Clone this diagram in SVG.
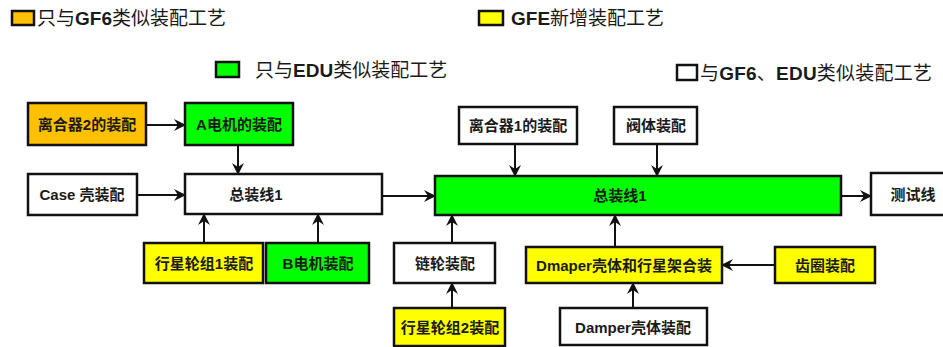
<svg xmlns="http://www.w3.org/2000/svg" width="943" height="347" viewBox="0 0 943 347">
<style>
.box{stroke:#111;stroke-width:2.5}
.w{fill:#fff}.o{fill:#FFC000}.g{fill:#00FF00}.y{fill:#FFFF00}
text{font-family:"Liberation Sans","Noto Sans CJK SC",sans-serif;fill:#1a1a1a}
.t{font-size:15px;font-weight:bold;text-anchor:middle}
.lg{font-size:19px}
.b{font-weight:bold}
.c{stroke:#111;stroke-width:2;fill:none;marker-end:url(#ah)}
</style>
<defs>
<marker id="ah" viewBox="0 0 12 12" refX="11" refY="6" markerWidth="12" markerHeight="12" markerUnits="userSpaceOnUse" orient="auto">
<path d="M0,0 L12,6 L0,12 L4,6 z" fill="#111"/>
</marker>
</defs>
<rect width="943" height="347" fill="#fff"/>
<g id="legend">
<rect class="box o" x="12" y="11" width="22" height="14"/>
<text class="lg" x="37" y="25">只与<tspan class="b">GF6</tspan>类似装配工艺</text>
<rect class="box y" x="479" y="11" width="24" height="14"/>
<text class="lg" x="511" y="25"><tspan class="b">GFE</tspan>新增装配工艺</text>
<rect class="box g" x="216" y="62" width="23" height="15"/>
<text class="lg" x="255" y="77">只与<tspan class="b">EDU</tspan>类似装配工艺</text>
<rect class="box w" x="677" y="65" width="20" height="15"/>
<text class="lg" x="700" y="80" textLength="232" lengthAdjust="spacing">与<tspan class="b">GF6</tspan>、<tspan class="b">EDU</tspan>类似装配工艺</text>
</g>
<g id="connectors">
<line class="c" x1="146" y1="125" x2="185" y2="125"/>
<line class="c" x1="238" y1="145" x2="238" y2="174"/>
<line class="c" x1="137" y1="195" x2="185" y2="195"/>
<line class="c" x1="204" y1="243" x2="204" y2="214"/>
<line class="c" x1="318" y1="243" x2="318" y2="214"/>
<line class="c" x1="382" y1="196" x2="435" y2="196"/>
<line class="c" x1="515" y1="144" x2="515" y2="176"/>
<line class="c" x1="657" y1="144" x2="657" y2="176"/>
<line class="c" x1="841" y1="196" x2="871" y2="196"/>
<line class="c" x1="452" y1="243" x2="452" y2="215"/>
<line class="c" x1="452" y1="308" x2="452" y2="283"/>
<line class="c" x1="615" y1="247" x2="615" y2="215"/>
<line class="c" x1="775" y1="265" x2="722" y2="265"/>
<line class="c" x1="633" y1="308" x2="633" y2="283"/>
</g>
<g id="n_clutch2"><rect class="box o" x="28" y="103" width="118" height="42"/><text class="t" x="87" y="130">离合器2的装配</text></g>
<g id="n_motorA"><rect class="box g" x="185" y="103" width="108" height="42"/><text class="t" x="239" y="130">A电机的装配</text></g>
<g id="n_case"><rect class="box w" x="28" y="174" width="109" height="41"/><text class="t" x="82" y="200">Case 壳装配</text></g>
<g id="n_line1a"><rect class="box w" x="185" y="174" width="197" height="40"/><text class="t" x="256" y="200">总装线1</text></g>
<g id="n_planet1"><rect class="box y" x="144" y="243" width="119" height="40"/><text class="t" x="204" y="269">行星轮组1装配</text></g>
<g id="n_motorB"><rect class="box g" x="266" y="243" width="103" height="40"/><text class="t" x="318" y="269">B电机装配</text></g>
<g id="n_clutch1"><rect class="box w" x="459" y="107" width="118" height="37"/><text class="t" x="518" y="131">离合器1的装配</text></g>
<g id="n_valve"><rect class="box w" x="614" y="107" width="83" height="37"/><text class="t" x="656" y="131">阀体装配</text></g>
<g id="n_line1b"><rect class="box g" x="435" y="176" width="406" height="39"/><text class="t" x="620" y="201">总装线1</text></g>
<g id="n_test"><rect class="box w" x="871" y="173" width="80" height="42"/><text class="t" x="913" y="200">测试线</text></g>
<g id="n_sprocket"><rect class="box w" x="394" y="243" width="101" height="40"/><text class="t" x="445" y="269">链轮装配</text></g>
<g id="n_planet2"><rect class="box y" x="394" y="308" width="111" height="38"/><text class="t" x="450" y="333">行星轮组2装配</text></g>
<g id="n_dmaper"><rect class="box y" x="526" y="247" width="196" height="36"/><text class="t" x="624" y="271">Dmaper壳体和行星架合装</text></g>
<g id="n_ring"><rect class="box y" x="775" y="247" width="100" height="36"/><text class="t" x="825" y="271">齿圈装配</text></g>
<g id="n_damper"><rect class="box w" x="560" y="308" width="147" height="37"/><text class="t" x="633" y="333">Damper壳体装配</text></g>
</svg>
